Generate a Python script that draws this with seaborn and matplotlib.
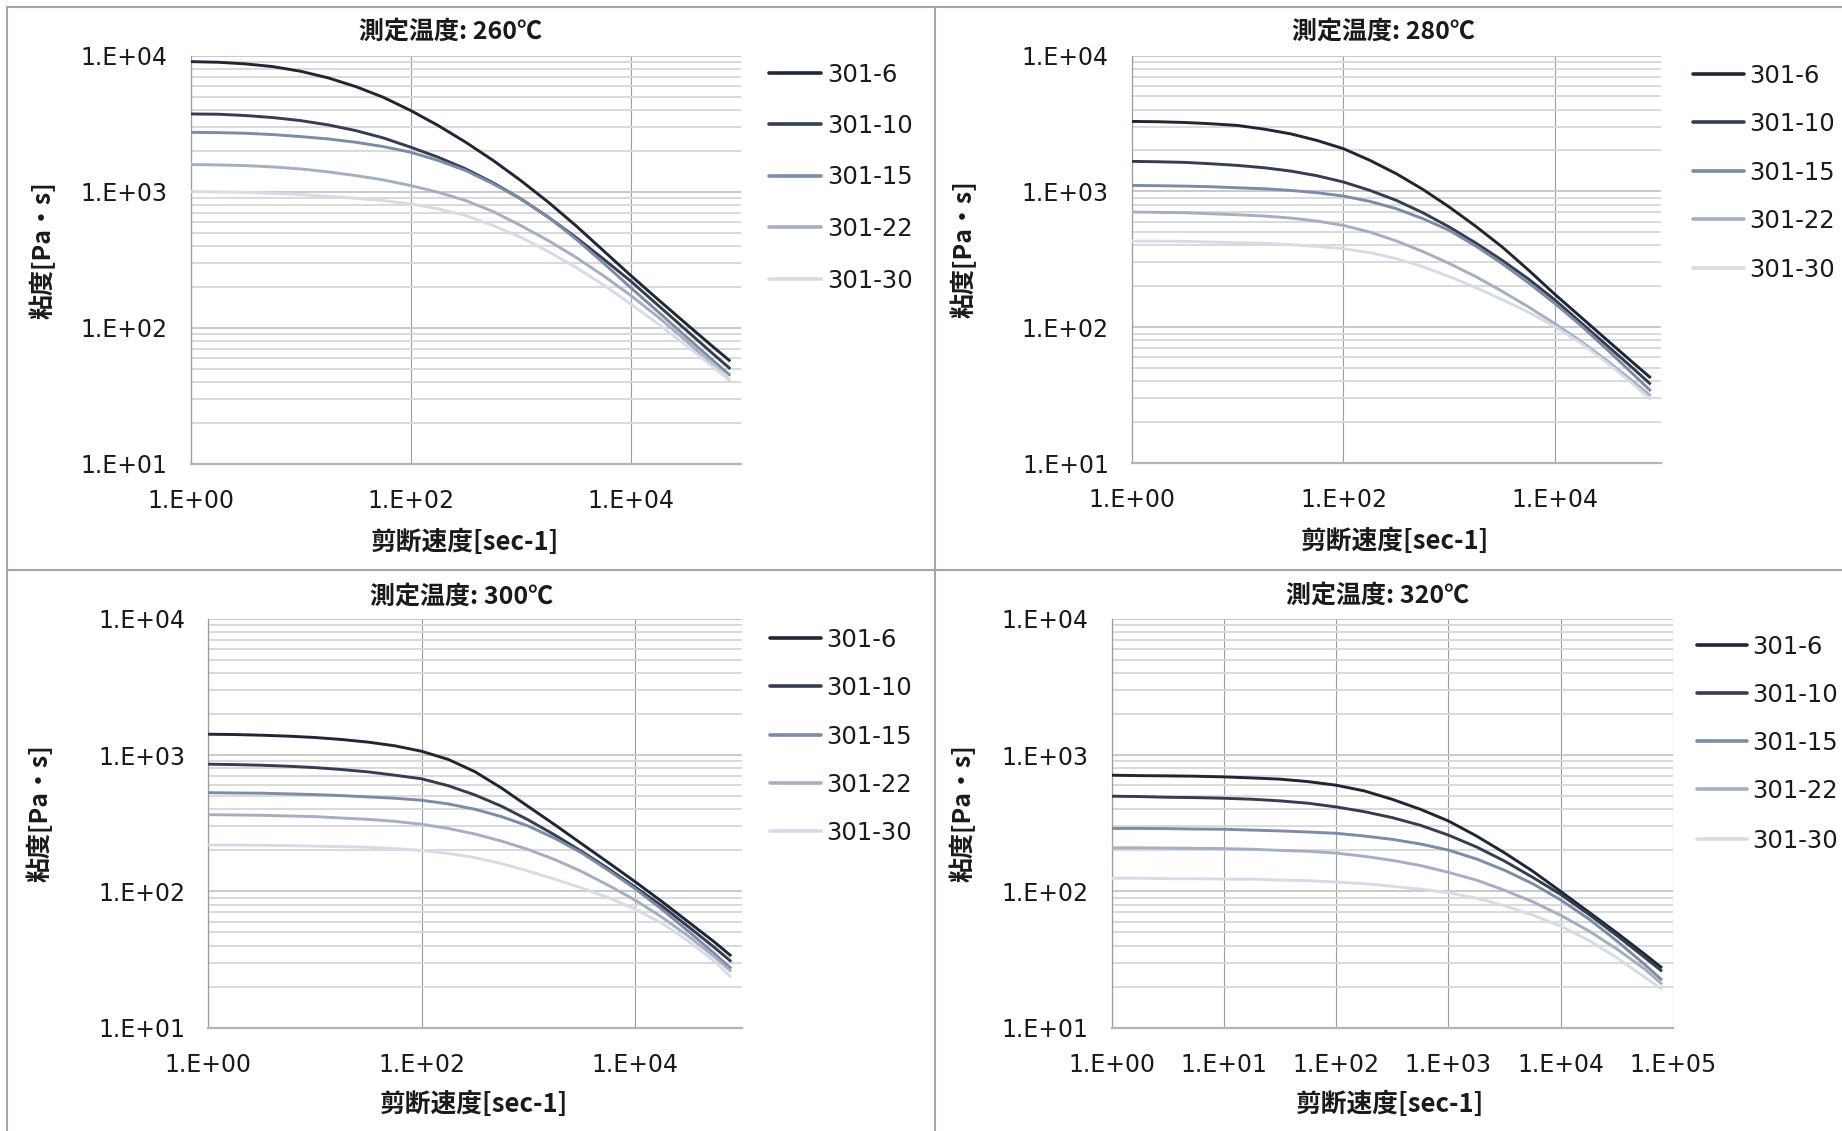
import numpy as np
import pandas as pd
import matplotlib
matplotlib.use("Agg")
import matplotlib.pyplot as plt
import seaborn as sns
from matplotlib.lines import Line2D
from matplotlib.ticker import FixedLocator, FuncFormatter, LogLocator, NullLocator, NullFormatter

# ---------------- data ----------------
SHEAR = [1.0, 1.78, 3.16, 5.62, 10.0, 17.8, 31.6, 56.2, 100.0, 178.0, 316.0, 562.0,
         1000.0, 1780.0, 3160.0, 5620.0, 10000.0, 17800.0, 31600.0, 56200.0, 80000.0]
SAMPLES = ["301-6", "301-10", "301-15", "301-22", "301-30"]
TEMPS = ["260", "280", "300", "320"]

VISC_260 = [
    [9030, 8935, 8690, 8295, 7670, 6855, 5920, 4940, 3945, 3056, 2306, 1692, 1205, 835, 562, 368, 241, 160, 107, 71.8, 56.6],
    [3724, 3706, 3624, 3501, 3327, 3093, 2810, 2483, 2120, 1788, 1468, 1159, 884, 648, 461, 320, 219, 145, 96.2, 63.7, 49.7],
    [2729, 2714, 2686, 2625, 2538, 2438, 2306, 2143, 1947, 1692, 1427, 1139, 884, 648, 449, 299, 196, 130, 85.9, 56.9, 44.4],
    [1581, 1571, 1553, 1518, 1468, 1396, 1312, 1219, 1107, 988, 859, 713, 562, 436, 329, 241, 172, 119, 80.2, 52.6, 40.7],
    [1000, 994, 988, 972, 950, 924, 893, 859, 811, 746, 667, 562, 461, 362, 278, 206, 149, 106, 74.1, 51.3, 40.7],
]
VISC_280 = [
    [3273, 3255, 3215, 3145, 3056, 2872, 2653, 2371, 2061, 1692, 1349, 1035, 767, 553, 390, 263, 174, 117.5, 79.4, 53.7, 42.4],
    [1663, 1652, 1635, 1597, 1553, 1493, 1412, 1304, 1172, 1017, 859, 697, 547, 417, 311, 226, 158.5, 107, 72.4, 48.8, 38.0],
    [1107, 1101, 1094, 1082, 1063, 1046, 1017, 978, 924, 844, 746, 630, 517, 396, 294, 212, 149, 102, 67.6, 44.2, 34.0],
    [705, 701, 697, 685, 673, 659, 637, 605, 562, 502, 432, 361, 295, 236, 184, 141, 106, 78.2, 56.0, 39.2, 31.3],
    [431, 431, 429, 424, 419, 415, 406, 394, 379, 354, 320, 279, 236, 196, 160, 129, 101, 75.7, 54.2, 37.5, 29.4],
]
VISC_300 = [
    [1426, 1418, 1402, 1380, 1349, 1304, 1247, 1172, 1069, 931, 757, 574, 420, 308, 224, 163, 118, 84.5, 59.8, 42.2, 33.5],
    [859, 853, 844, 830, 811, 785, 754, 713, 671, 597, 511, 422, 335, 259, 197, 147, 108, 78.5, 55.2, 38.5, 30.5],
    [531, 528, 526, 520, 514, 505, 494, 483, 467, 439, 401, 354, 302, 245, 192, 143, 105, 74.1, 51.1, 34.7, 27.1],
    [366, 364, 362, 358, 354, 346, 338, 327, 311, 290, 264, 234, 203, 171, 140, 111, 86.5, 64.9, 47.0, 32.9, 25.8],
    [219, 219, 218, 217, 215, 213, 211, 206, 200, 190, 177, 160, 141, 123, 106, 90.2, 74.1, 58.6, 43.2, 30.5, 23.4],
]
VISC_320 = [
    [713, 708, 705, 701, 693, 681, 667, 640, 602, 547, 474, 401, 329, 255, 192, 141, 100, 70.5, 49.7, 34.5, 27.4],
    [500, 497, 491, 488, 483, 475, 462, 444, 417, 385, 348, 306, 259, 212, 167, 127, 95, 67.9, 47.5, 32.7, 25.9],
    [290, 290, 289, 287, 286, 282, 278, 273, 267, 255, 241, 223, 201, 173, 143, 114, 86.7, 62.8, 43.4, 29.0, 22.3],
    [209, 209, 208, 207, 206, 204, 200, 197, 191, 181, 169, 155, 138, 121, 102, 84, 66.8, 51.3, 37.8, 26.9, 20.8],
    [125, 125, 124, 124, 123, 123, 121, 120, 117, 114, 109, 104, 97.8, 89.1, 78.5, 67.1, 55.6, 43.7, 32.7, 23.4, 19.1],
]
XTICKS_2DEC = [1e0, 1e2, 1e4]
XTICKS_1DEC = [1e0, 1e1, 1e2, 1e3, 1e4, 1e5]
YTICKS = [1e1, 1e2, 1e3, 1e4]

TITLE_FMT = "測定温度: {}℃"
XLABEL = "剪断速度[sec-1]"
YLABEL = "粘度[Pa・s]"

COLORS = ["#1f2634", "#343e50", "#7b8ca7", "#a5afc2", "#d6dce6"]

# ---------------- styling ----------------
sns.set_theme(style="white")
plt.rcParams["font.family"] = ["DejaVu Sans", "Noto Sans CJK JP"]
CJK = ["Noto Sans CJK JP", "DejaVu Sans"]

W, H = 1842, 1131
fig = plt.figure(figsize=(W / 100, H / 100), dpi=100)
fig.patch.set_facecolor("white")


def fx(px):
    return px / W


def fy(py):
    return 1 - py / H


BORDER = "#a6a6a6"
for (x0, y0, x1, y1) in [(7, 6.5, W, 6.5), (7, 570, W, 570), (7, 6.5, 7, H), (934.5, 6.5, 934.5, H)]:
    fig.add_artist(Line2D([fx(x0), fx(x1)], [fy(y0), fy(y1)], color=BORDER, lw=1.5))

PANELS = [
    dict(temp="260", data=VISC_260, plot=(190.6, 55.6, 741.0, 463.6), title=(450, 32), xlab=(465, 542),
         ylab=(42, 250), leg=(769, 821, 827), legy=[72.5, 124, 175.5, 227, 278.5], xt=XTICKS_2DEC),
    dict(temp="280", data=VISC_280, plot=(1131.8, 55.5, 1661.0, 463.2), title=(1383.5, 31.5), xlab=(1395.5, 541),
         ylab=(963, 249), leg=(1693, 1744, 1749), legy=[74, 122, 171, 219, 268], xt=XTICKS_2DEC),
    dict(temp="300", data=VISC_300, plot=(208.2, 619.0, 741.6, 1027.6), title=(461.6, 596.4), xlab=(473.6, 1104.4),
         ylab=(39, 813), leg=(770, 821, 826), legy=[637.6, 686.4, 734.8, 783.2, 831.3], xt=XTICKS_2DEC),
    dict(temp="320", data=VISC_320, plot=(1111.7, 619.0, 1672.9, 1027.6), title=(1378, 596), xlab=(1389.6, 1104.4),
         ylab=(962, 813), leg=(1697, 1747, 1752), legy=[644.5, 693, 741, 789.4, 838.6], xt=XTICKS_1DEC),
]

fmt = FuncFormatter(lambda v, _: "1.E+{:02d}".format(int(round(np.log10(v)))))

for p in PANELS:
    x0, y0, x1, y1 = p["plot"]
    ax = fig.add_axes([fx(x0), fy(y1), (x1 - x0) / W, (y1 - y0) / H])
    ax.set_facecolor("white")

    rows = []
    for s, vals in zip(SAMPLES, p["data"]):
        for xv, yv in zip(SHEAR, vals):
            rows.append({"shear": xv, "visc": yv, "sample": s})
    df = pd.DataFrame(rows)

    sns.lineplot(data=df, x="shear", y="visc", hue="sample", hue_order=SAMPLES, palette=COLORS,
                 linewidth=2.1, legend=False, sort=False, estimator=None, ax=ax, zorder=3)
    for ln in ax.get_lines():
        ln.set_solid_joinstyle("round")
        ln.set_solid_capstyle("butt")

    ax.set_xscale("log")
    ax.set_yscale("log")
    ax.set_xlim(1, 1e5)
    ax.set_ylim(10, 1e4)
    ax.xaxis.set_major_locator(FixedLocator(p["xt"]))
    ax.xaxis.set_major_formatter(fmt)
    ax.xaxis.set_minor_locator(NullLocator())
    ax.yaxis.set_major_locator(FixedLocator(YTICKS))
    ax.yaxis.set_major_formatter(fmt)
    ax.yaxis.set_minor_locator(LogLocator(base=10, subs=np.arange(2, 10)))
    ax.yaxis.set_minor_formatter(NullFormatter())

    ax.grid(which="major", axis="y", color="#c9c9c9", lw=1.4, zorder=0)
    ax.grid(which="minor", axis="y", color="#d9d9d9", lw=1.4, zorder=0)
    ax.grid(which="major", axis="x", color="#9c9c9c", lw=0.8, zorder=0)
    ax.set_axisbelow(True)

    for side in ["top", "right"]:
        ax.spines[side].set_visible(False)
    ax.spines["left"].set_color("#9c9c9c")
    ax.spines["left"].set_linewidth(0.9)
    ax.spines["bottom"].set_color("#b4b4b4")
    ax.spines["bottom"].set_linewidth(1.6)

    ax.tick_params(axis="both", which="major", direction="out", length=5.5, width=0.9, color="#8c8c8c",
                   labelsize=17, labelcolor="#1a1a1a")
    ax.tick_params(axis="x", which="major", pad=12.5)
    ax.tick_params(axis="y", which="major", pad=11)
    ax.tick_params(axis="both", which="minor", length=0)
    ax.set_xlabel("")
    ax.set_ylabel("")

    fig.text(fx(p["title"][0]), fy(p["title"][1]), TITLE_FMT.format(p["temp"]), ha="center", va="center",
             fontsize=18, fontweight="bold", family=CJK, color="#1a1a1a")
    fig.text(fx(p["xlab"][0]), fy(p["xlab"][1]), XLABEL, ha="center", va="center",
             fontsize=18.5, fontweight="bold", family=CJK, color="#1a1a1a")
    fig.text(fx(p["ylab"][0]), fy(p["ylab"][1]), YLABEL, ha="center", va="center", rotation=90,
             fontsize=18, fontweight="bold", family=CJK, color="#1a1a1a")

    lx0, lx1, tx = p["leg"]
    for s, c, ly in zip(SAMPLES, COLORS, p["legy"]):
        fig.add_artist(Line2D([fx(lx0), fx(lx1)], [fy(ly), fy(ly)], color=c, lw=2.6, solid_capstyle="round"))
        fig.text(fx(tx), fy(ly + 9), s, ha="left", va="baseline", fontsize=17.5, color="#1a1a1a")

fig.savefig("out.png", dpi=100, facecolor="white")
